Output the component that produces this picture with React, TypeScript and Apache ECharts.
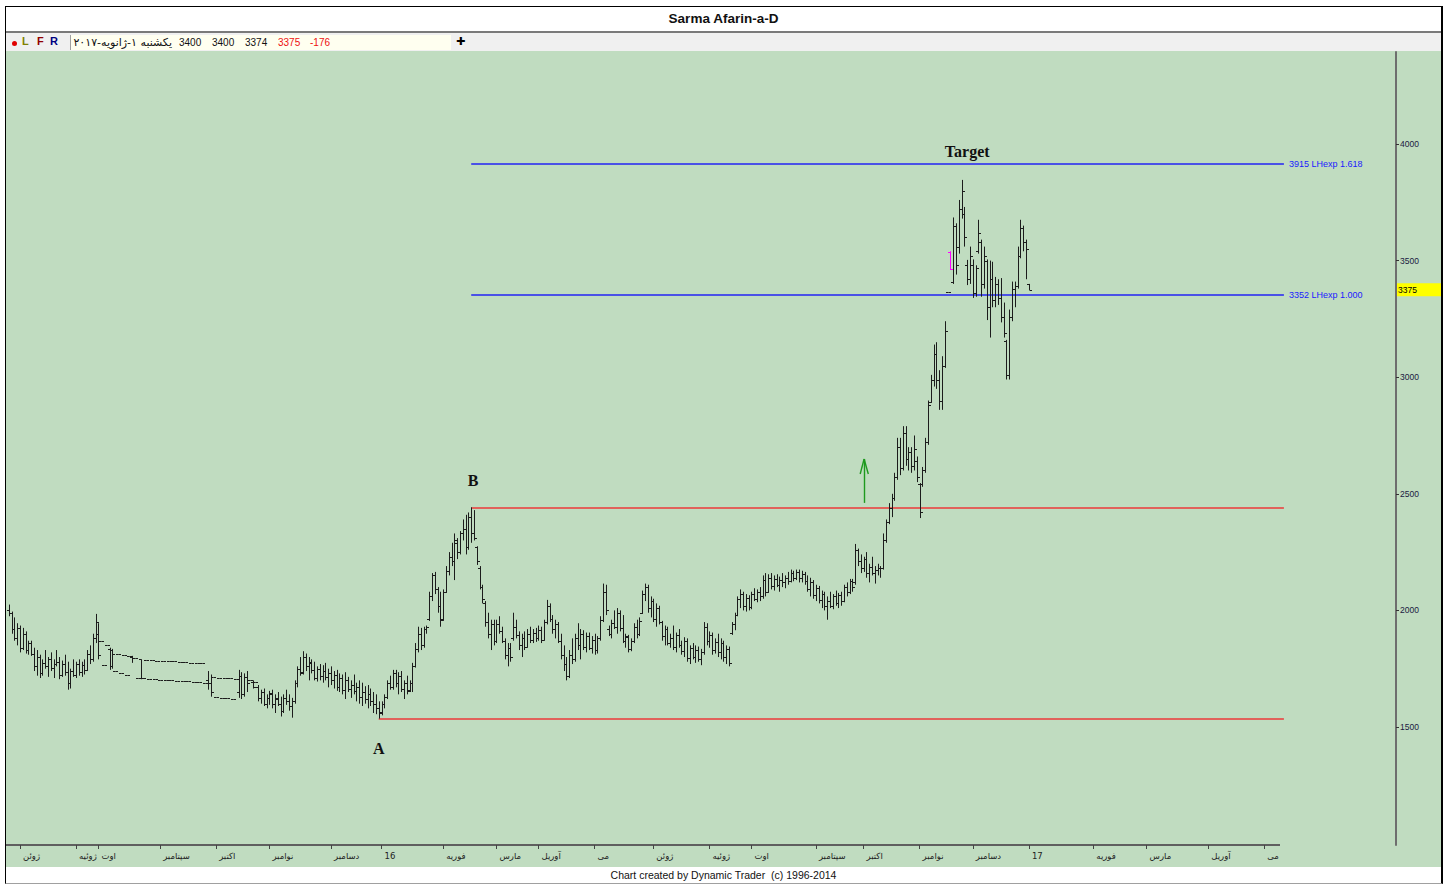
import React, { useEffect, useRef } from "react";
import * as echarts from "echarts";

// OHLC bars [open, high, low, close]; a single number is a flat (halted) bar.
const barsJunJul2015: (number | number[])[] = [
  [2000, 2025, 1975, 1990], [1990, 1995, 1900, 1920], [1920, 1970, 1870, 1880], [1880, 1945, 1850, 1925],
  [1925, 1935, 1820, 1840], [1840, 1925, 1830, 1900], [1900, 1910, 1815, 1830], [1830, 1870, 1810, 1860],
  [1860, 1870, 1805, 1815], [1815, 1840, 1740, 1760], [1760, 1830, 1720, 1800], [1800, 1810, 1710, 1730],
  [1730, 1790, 1720, 1775], [1775, 1830, 1750, 1760], [1760, 1800, 1715, 1790], [1790, 1820, 1740, 1755],
  [1755, 1790, 1710, 1770], [1770, 1830, 1760, 1780], [1780, 1800, 1705, 1725], [1725, 1785, 1715, 1770],
  [1770, 1810, 1720, 1735], [1735, 1780, 1660, 1690], [1690, 1750, 1665, 1740], [1740, 1790, 1715, 1725],
  [1725, 1780, 1710, 1770], [1770, 1790, 1720, 1735], [1735, 1780, 1715, 1765], [1765, 1790, 1725, 1745],
  [1745, 1830, 1740, 1815], [1815, 1850, 1770, 1790], [1790, 1900, 1780, 1880], [1880, 1985, 1860, 1950],
  [1900, 1945, 1790, 1810],
];
const barsAugOct2015: (number | number[])[] = [
  1870, 1766, 1850, [1835, 1840, 1745, 1760], [1830, 1835, 1750, 1815], 1740, 1815, 1730, 1810, 1722, 1805,
  [1800, 1805, 1775, 1795], 1797, 1712, [1790, 1790, 1705, 1710], 1708, 1787, 1706, 1786, 1704, 1785, 1703,
  1784, 1702, 1783, 1700, 1781, 1699, 1780, 1697, 1778, 1696, 1776, 1694, 1775, 1692, 1773, 1690,
  [1700, 1740, 1660, 1690], [1690, 1725, 1630, 1650], 1713, 1628, 1712, 1626, 1710, 1624, 1708, 1622, 1706,
  [1650, 1745, 1625, 1720], [1720, 1735, 1620, 1640], [1640, 1730, 1630, 1715], [1715, 1740, 1650, 1690],
  1700, [1695, 1700, 1665, 1670], 1692, [1670, 1680, 1610, 1625], [1625, 1660, 1600, 1650],
  [1650, 1665, 1590, 1600], [1600, 1640, 1580, 1625], [1625, 1655, 1595, 1640],
];
const barsNovDec2015: (number | number[])[] = [
  [1645, 1660, 1580, 1600], [1600, 1640, 1560, 1625], [1620, 1650, 1590, 1600], [1600, 1630, 1545, 1570],
  [1570, 1640, 1560, 1625], [1625, 1660, 1595, 1610], [1610, 1640, 1570, 1590], [1590, 1625, 1540, 1610],
  [1610, 1700, 1600, 1690], [1690, 1760, 1670, 1750], [1750, 1800, 1720, 1730], [1735, 1825, 1725, 1800],
  [1800, 1815, 1740, 1760], [1760, 1800, 1700, 1780], [1775, 1790, 1730, 1745], [1745, 1780, 1700, 1710],
  [1710, 1760, 1695, 1750], [1750, 1770, 1700, 1720], [1720, 1765, 1690, 1740], [1740, 1775, 1700, 1715],
  [1715, 1750, 1670, 1730], [1730, 1760, 1680, 1700], [1700, 1740, 1665, 1725], [1725, 1745, 1655, 1670],
  [1670, 1730, 1650, 1710], [1710, 1725, 1640, 1660], [1660, 1735, 1620, 1700], [1700, 1715, 1650, 1665],
  [1665, 1700, 1625, 1680], [1680, 1725, 1640, 1655], [1655, 1690, 1610, 1670], [1670, 1700, 1600, 1630],
  [1630, 1690, 1590, 1650], [1650, 1675, 1600, 1620], [1620, 1680, 1580, 1640], [1640, 1665, 1590, 1610],
  [1610, 1650, 1560, 1600], [1600, 1640, 1555, 1580], [1580, 1610, 1536, 1560],
];
const barsJanFeb2016: (number | number[])[] = [
  [1565, 1610, 1550, 1600], [1600, 1640, 1580, 1630], [1630, 1700, 1620, 1690], [1690, 1720, 1660, 1670],
  [1670, 1745, 1660, 1730], [1730, 1745, 1670, 1690], [1690, 1735, 1640, 1720], [1720, 1740, 1650, 1665],
  [1665, 1700, 1620, 1690], [1690, 1720, 1640, 1655], [1660, 1700, 1650, 1690], [1690, 1775, 1650, 1760],
  [1760, 1860, 1755, 1835], [1835, 1930, 1820, 1900], [1900, 1925, 1830, 1850], [1850, 1930, 1840, 1920],
  [1920, 1935, 1900, 1930], [1965, 2080, 1955, 2060], [2060, 2160, 2040, 2150], [2150, 2165, 2070, 2090],
  [2090, 2100, 1990, 2020], [2020, 2080, 1930, 1960], [1965, 2090, 1955, 2080], [2080, 2190, 2075, 2170],
  [2170, 2250, 2150, 2230], [2230, 2290, 2190, 2210], [2210, 2330, 2130, 2300], [2290, 2310, 2220, 2250],
  [2250, 2340, 2240, 2330], [2330, 2390, 2300, 2350], [2350, 2410, 2240, 2270], [2270, 2420, 2260, 2400],
  [2400, 2442, 2290, 2330], [2330, 2430, 2300, 2310], [2270, 2275, 2195, 2210], [2180, 2190, 2090, 2100],
  [2100, 2110, 2030, 2050], [2030, 2040, 1930, 1950], [1950, 1990, 1880, 1900], [1900, 1960, 1830, 1940],
  [1940, 1960, 1850, 1870],
];
const barsMarMay2016: (number | number[])[] = [
  [1870, 1960, 1860, 1940], [1940, 1975, 1900, 1910], [1910, 1930, 1860, 1870], [1870, 1880, 1790, 1810],
  [1810, 1860, 1760, 1840], [1840, 1860, 1780, 1800], [1880, 1990, 1870, 1930], [1930, 1960, 1880, 1895],
  [1895, 1910, 1830, 1850], [1850, 1900, 1800, 1880], [1880, 1910, 1830, 1845], [1845, 1920, 1840, 1900],
  [1900, 1930, 1860, 1875], [1875, 1920, 1860, 1905], [1905, 1925, 1865, 1880], [1880, 1935, 1870, 1915],
  [1915, 1930, 1860, 1875], [1875, 1960, 1870, 1950], [1950, 2045, 1940, 2020], [2020, 2030, 1950, 1965],
  [1965, 1980, 1900, 1920], [1920, 1960, 1880, 1940], [1940, 1950, 1860, 1870], [1870, 1900, 1790, 1810],
  [1810, 1850, 1740, 1770], [1770, 1800, 1700, 1720], [1720, 1830, 1710, 1810], [1810, 1880, 1770, 1790],
  [1790, 1900, 1780, 1880], [1880, 1945, 1830, 1850], [1850, 1920, 1790, 1900], [1900, 1915, 1830, 1845],
  [1845, 1905, 1820, 1890], [1890, 1905, 1830, 1840], [1840, 1890, 1815, 1875], [1875, 1900, 1810, 1830],
  [1830, 1890, 1815, 1880], [1880, 1975, 1870, 1960], [1960, 2115, 1950, 2080], [2080, 2110, 1980, 2000],
  [1920, 1935, 1890, 1900], [1900, 1960, 1880, 1945], [1945, 2000, 1920, 1930], [1930, 2010, 1900, 1990],
  [1990, 2000, 1910, 1925], [1925, 1980, 1860, 1870], [1870, 1900, 1840, 1890], [1885, 1895, 1820, 1835],
  [1835, 1880, 1825, 1870], [1870, 1945, 1860, 1930], [1930, 1960, 1880, 1900], [1900, 1970, 1890, 1955],
  [1990, 2085, 1985, 2070], [2070, 2115, 2040, 2100], [2100, 2110, 1990, 2010], [2010, 2060, 1970, 2040],
];
const barsJunAug2016: (number | number[])[] = [
  [2040, 2050, 1950, 1965], [1965, 2030, 1930, 2010], [2010, 2020, 1940, 1950], [1950, 1955, 1870, 1890],
  [1890, 1935, 1850, 1920], [1920, 1930, 1850, 1860], [1860, 1900, 1840, 1880], [1880, 1935, 1830, 1845],
  [1845, 1905, 1820, 1895], [1895, 1920, 1840, 1850], [1850, 1870, 1810, 1825], [1825, 1885, 1800, 1870],
  [1870, 1880, 1780, 1795], [1795, 1850, 1770, 1840], [1840, 1860, 1790, 1800], [1800, 1850, 1775, 1830],
  [1830, 1845, 1780, 1790], [1790, 1835, 1765, 1820], [1820, 1950, 1810, 1930], [1930, 1945, 1850, 1870],
  [1870, 1910, 1840, 1895], [1895, 1905, 1810, 1830], [1830, 1880, 1815, 1865], [1865, 1900, 1800, 1820],
  [1820, 1880, 1790, 1860], [1860, 1870, 1780, 1800], [1800, 1850, 1770, 1835], [1835, 1845, 1760, 1775],
  [1905, 1950, 1895, 1940], [1940, 1990, 1915, 1980], [1980, 2060, 1975, 2050], [2050, 2090, 2010, 2070],
  [2070, 2080, 2000, 2020], [2020, 2070, 1995, 2055], [2055, 2065, 2000, 2015], [2015, 2080, 2005, 2070],
  [2070, 2095, 2040, 2050], [2050, 2090, 2035, 2080], [2080, 2100, 2040, 2060], [2060, 2150, 2050, 2130],
];
const barsSepOct2016: (number | number[])[] = [
  [2130, 2160, 2060, 2080], [2080, 2155, 2075, 2140], [2140, 2160, 2090, 2105], [2105, 2150, 2085, 2135],
  [2135, 2155, 2100, 2110], [2110, 2145, 2080, 2130], [2130, 2160, 2100, 2120], [2120, 2150, 2095, 2140],
  [2140, 2165, 2110, 2125], [2125, 2175, 2120, 2160], [2160, 2170, 2125, 2140], [2140, 2175, 2130, 2165],
  [2165, 2175, 2120, 2140], [2140, 2170, 2120, 2155], [2155, 2165, 2110, 2125], [2125, 2150, 2080, 2090],
  [2090, 2140, 2060, 2120], [2120, 2130, 2050, 2065], [2065, 2110, 2040, 2095], [2095, 2105, 2030, 2045],
  [2045, 2085, 2010, 2070], [2070, 2080, 2000, 2020], [2020, 2060, 1960, 2040], [2040, 2080, 2010, 2020],
  [2020, 2070, 2005, 2060], [2060, 2085, 2020, 2030], [2030, 2075, 2010, 2065], [2065, 2080, 2020, 2040],
  [2040, 2110, 2035, 2100], [2100, 2120, 2060, 2080], [2080, 2135, 2070, 2125], [2125, 2135, 2080, 2100],
  [2120, 2285, 2110, 2260], [2260, 2265, 2190, 2210], [2210, 2240, 2160, 2180], [2180, 2230, 2165, 2220],
  [2220, 2250, 2140, 2160], [2160, 2200, 2120, 2185], [2185, 2230, 2150, 2160], [2160, 2190, 2115, 2175],
  [2175, 2200, 2150, 2180], [2180, 2190, 2140, 2180],
];
const barsNovDec2016: (number | number[])[] = [
  [2180, 2330, 2175, 2300], [2300, 2390, 2290, 2380], [2380, 2460, 2370, 2440], [2440, 2500, 2400, 2480],
  [2480, 2590, 2470, 2570], [2570, 2740, 2560, 2700], [2700, 2740, 2580, 2610], [2610, 2790, 2600, 2760],
  [2760, 2790, 2620, 2650], [2650, 2700, 2600, 2680], [2680, 2700, 2590, 2620], [2620, 2750, 2600, 2690],
  [2640, 2660, 2550, 2570], [2540, 2546, 2396, 2420], [2540, 2615, 2530, 2600], [2600, 2740, 2590, 2720],
  [2720, 2900, 2710, 2880], [2895, 3010, 2890, 2990], [2990, 3140, 2960, 3100], [3100, 3150, 2950, 2990],
  [2990, 3030, 2860, 2900], [2900, 3090, 2860, 3050], [3050, 3240, 3040, 3200], 3367,
  [3535, 3540, 3460, 3465], [3410, 3685, 3400, 3650], [3650, 3660, 3440, 3480], [3560, 3760, 3530, 3720],
  [3720, 3846, 3680, 3800], [3700, 3730, 3560, 3600], [3480, 3503, 3395, 3420], [3420, 3560, 3400, 3520],
  [3480, 3505, 3340, 3360], [3360, 3480, 3345, 3470], [3540, 3675, 3530, 3620], [3580, 3590, 3345, 3400],
  [3400, 3560, 3380, 3520], [3500, 3505, 3245, 3300], [3300, 3500, 3170, 3420], [3420, 3495, 3300, 3330],
  [3330, 3430, 3300, 3400], [3400, 3420, 3310, 3340], [3340, 3425, 3235, 3260], [3260, 3320, 3170, 3190],
  [3155, 3160, 2990, 3010], [3010, 3290, 2990, 3260], [3260, 3410, 3240, 3380], [3380, 3410, 3300, 3390],
  [3390, 3560, 3380, 3520], [3520, 3675, 3510, 3640], [3640, 3650, 3540, 3580], [3580, 3590, 3420, 3551],
  [3400, 3400, 3374, 3375],
];

const highlightBars = [337];

const monthTickBars = [5, 25, 33, 55, 75, 94, 116, 134, 156, 175, 190, 210, 231, 251, 266, 289, 306, 326, 345, 365, 388, 407, 429, 449];
const monthTickLabels = [
  "ژوئن", "ژوئیه", "اوت", "سپتامبر", "اکتبر", "نوامبر", "دسامبر", "16", "فوریه", "مارس", "آوریل", "می",
  "ژوئن", "ژوئیه", "اوت", "سپتامبر", "اکتبر", "نوامبر", "دسامبر", "17", "فوریه", "مارس", "آوریل", "می",
];
const priceTicks = [1500, 2000, 2500, 3000, 3500, 4000];

const levelPrices = [3915, 3352, 2440, 1536];
const levelLabels = ["3915 LHexp 1.618", "3352 LHexp 1.000", "", ""];
const levelStartBars = [166, 166, 166, 133];
const levelEndBar = 456;
const levelColors = ["#2323f5", "#2323f5", "#ec3a3a", "#ec3a3a"];

const pointLabels = ["A", "B", "Target"];
const pointBars = [133, 166.7, 343];
const pointPrices = [1406, 2555, 3966];

const arrowBar = 306.2;
const arrowFrom = 2461;
const arrowTo = 2649;
const arrowWingBars = [304.8, 307.7];
const arrowWingPrice = 2585;

const headerValues = ["3400", "3400", "3374", "3375", "-176"];
const headerDate = "یکشنبه ۱-ژانویه-۲۰۱۷";

export default function App() {
  const ref = useRef<HTMLDivElement>(null);

  useEffect(() => {
    if (!ref.current) return;
    const chart = echarts.init(ref.current, null, { renderer: "svg" });
    const all = [
      ...barsJunJul2015, ...barsAugOct2015, ...barsNovDec2015, ...barsJanFeb2016,
      ...barsMarMay2016, ...barsJunAug2016, ...barsSepOct2016, ...barsNovDec2016,
    ];
    const data = all.map((b, k) => {
      const v = Array.isArray(b) ? b : [b, b, b, b];
      return [k + 1, v[0], v[1], v[2], v[3]];
    });
    const levelData = levelPrices.map((p, k) => [levelStartBars[k], levelEndBar, p, k]);

    const renderBar = (params: any, api: any) => {
      const i = api.value(0);
      const pO = api.coord([i, api.value(1)]);
      const pH = api.coord([i, api.value(2)]);
      const pL = api.coord([i, api.value(3)]);
      const pC = api.coord([i, api.value(4)]);
      const x = Math.round(pH[0]) + 0.5;
      const color = highlightBars.includes(i) ? "#ff00ff" : "#1c1c1c";
      const st = { stroke: color, lineWidth: 1 };
      const yO = Math.round(pO[1]) + 0.5;
      const yC = Math.round(pC[1]) + 0.5;
      return {
        type: "group",
        children: [
          { type: "line", shape: { x1: x, y1: pH[1], x2: x, y2: pL[1] }, style: st },
          { type: "line", shape: { x1: x - 2.5, y1: yO, x2: x, y2: yO }, style: st },
          { type: "line", shape: { x1: x, y1: yC, x2: x + 2.5, y2: yC }, style: st },
        ],
      };
    };

    const renderLevel = (params: any, api: any) => {
      const k = api.value(3);
      const a = api.coord([api.value(0), api.value(2)]);
      const b = api.coord([api.value(1), api.value(2)]);
      const y = Math.round(a[1]);
      const children: any[] = [
        { type: "line", shape: { x1: a[0], y1: y, x2: b[0], y2: y }, style: { stroke: levelColors[k], lineWidth: 1.5 } },
      ];
      if (levelLabels[k]) {
        children.push({
          type: "text", x: b[0] + 5, y,
          style: { text: levelLabels[k], fill: "#1a1aff", fontSize: 9, fontFamily: "Liberation Sans", verticalAlign: "middle", align: "left" },
        });
      }
      return { type: "group", children };
    };

    const arrowStyle = { color: "#1f9a1f", width: 1.4, type: "solid" };
    const arrowLines = [
      [{ coord: [arrowBar, arrowFrom], lineStyle: arrowStyle, label: { show: false } }, { coord: [arrowBar, arrowTo], lineStyle: arrowStyle }],
      [{ coord: [arrowWingBars[0], arrowWingPrice], lineStyle: arrowStyle, label: { show: false } }, { coord: [arrowBar, arrowTo], lineStyle: arrowStyle }],
      [{ coord: [arrowWingBars[1], arrowWingPrice], lineStyle: arrowStyle, label: { show: false } }, { coord: [arrowBar, arrowTo], lineStyle: arrowStyle }],
    ];

    chart.setOption({
      animation: false,
      backgroundColor: "transparent",
      grid: { left: 0, top: 1, right: 45, bottom: 22, containLabel: false },
      xAxis: {
        type: "value",
        min: 0,
        max: 496,
        axisLine: { show: false, onZero: false },
        axisTick: { show: true, customValues: monthTickBars, length: 4, lineStyle: { color: "#444", width: 1 } },
        axisLabel: {
          show: true,
          customValues: monthTickBars,
          formatter: (v: number) => {
            const k = monthTickBars.indexOf(v);
            return k >= 0 ? monthTickLabels[k] : "";
          },
          align: "left",
          margin: 6,
          padding: [0, 0, 0, 3],
          fontSize: 8.5,
          color: "#222",
          fontFamily: "DejaVu Sans",
        },
        splitLine: { show: false },
      },
      yAxis: {
        type: "value",
        position: "right",
        min: 994,
        max: 4394.5,
        axisLine: { show: true, onZero: false, lineStyle: { color: "#6e6e6e", width: 2 } },
        axisTick: { show: true, customValues: priceTicks, length: 3, lineStyle: { color: "#333" } },
        axisLabel: {
          show: true, customValues: priceTicks, margin: 4, fontSize: 8.5,
          color: "#1a1a40", fontFamily: "Liberation Sans",
          formatter: (v: number) => String(v),
        },
        splitLine: { show: false },
      },
      series: [
        {
          type: "custom",
          name: "levels",
          renderItem: renderLevel,
          data: levelData,
          encode: { x: [0, 1], y: 2 },
          silent: true,
          z: 1,
        },
        {
          type: "custom",
          name: "bars",
          renderItem: renderBar,
          data,
          encode: { x: 0, y: [1, 2, 3, 4] },
          z: 2,
          markLine: {
            silent: true,
            symbol: ["none", "none"],
            animation: false,
            data: arrowLines,
          },
          markPoint: {
            silent: true,
            symbol: "rect",
            symbolSize: [1, 1],
            itemStyle: { color: "rgba(0,0,0,0)" },
            data: pointLabels.map((t, k) => ({
              coord: [pointBars[k], pointPrices[k]],
              value: t,
              label: {
                show: true, position: "inside", formatter: t, color: "#111",
                fontWeight: "bold", fontFamily: "Liberation Serif", fontSize: 16,
              },
            })),
          },
        },
      ],
    });

    const lastClose = data[data.length - 1][4];
    const yLast = chart.convertToPixel({ yAxisIndex: 0 }, lastClose) as number;
    chart.setOption({
      graphic: [
        { type: "line", silent: true, shape: { x1: 0, y1: 794, x2: 1274, y2: 794 }, style: { stroke: "#5f5f5f", lineWidth: 2 } },
        { type: "rect", silent: true, shape: { x: 1389, y: yLast - 6.5, width: 46, height: 13 }, style: { fill: "#ffff00" } },
        {
          type: "text", silent: true, x: 1392, y: yLast,
          style: { text: String(lastClose), fill: "#000", fontSize: 8.5, fontFamily: "Liberation Sans", verticalAlign: "middle" },
        },
      ],
    });

    return () => chart.dispose();
  }, []);

  const hv = { position: "absolute" as const, top: 36, fontSize: 10, fontFamily: "Liberation Sans", lineHeight: "13px" };

  return (
    <div style={{ position: "fixed", left: 0, top: 0, width: 1448, height: 884, background: "#fff", overflow: "hidden" }}>
      <div style={{ position: "absolute", left: 5, top: 6, width: 1438, height: 878, boxSizing: "border-box", borderLeft: "1px solid #000", borderTop: "1px solid #000", borderRight: "2px solid #000", borderBottom: "1px solid #a0a0a0" }} />
      <div style={{ position: "absolute", left: 6, top: 7, width: 1435, height: 24, lineHeight: "24px", textAlign: "center", fontFamily: "Liberation Sans", fontWeight: "bold", fontSize: 13.5, color: "#111" }}>Sarma Afarin-a-D</div>
      <div style={{ position: "absolute", left: 6, top: 31, width: 1435, height: 2, background: "#7a7a7a" }} />
      <div style={{ position: "absolute", left: 6, top: 33, width: 1435, height: 18, background: "#f0f0f0" }} />
      <div style={{ position: "absolute", left: 12, top: 41, width: 5, height: 5, borderRadius: 3, background: "#e00000" }} />
      <div style={{ position: "absolute", left: 22, top: 35, fontSize: 11, fontWeight: "bold", fontFamily: "Liberation Sans", color: "#808000" }}>L</div>
      <div style={{ position: "absolute", left: 37, top: 35, fontSize: 11, fontWeight: "bold", fontFamily: "Liberation Sans", color: "#900000" }}>F</div>
      <div style={{ position: "absolute", left: 50, top: 35, fontSize: 11, fontWeight: "bold", fontFamily: "Liberation Sans", color: "#000080" }}>R</div>
      <div style={{ position: "absolute", left: 70, top: 35, width: 380, height: 15, background: "#fffff0", borderLeft: "1px solid #a0a0a0" }} />
      <div dir="rtl" style={{ position: "absolute", left: 60, top: 36, width: 112, textAlign: "right", fontSize: 11, fontFamily: "DejaVu Sans", lineHeight: "13px", color: "#111", whiteSpace: "nowrap" }}>{headerDate}</div>
      <div style={{ ...hv, left: 179, color: "#111" }}>{headerValues[0]}</div>
      <div style={{ ...hv, left: 212, color: "#111" }}>{headerValues[1]}</div>
      <div style={{ ...hv, left: 245, color: "#111" }}>{headerValues[2]}</div>
      <div style={{ ...hv, left: 278, color: "#ee1111" }}>{headerValues[3]}</div>
      <div style={{ ...hv, left: 310, color: "#ee1111" }}>{headerValues[4]}</div>
      <div style={{ position: "absolute", left: 456, top: 35, fontSize: 11, fontWeight: "bold", fontFamily: "DejaVu Sans", color: "#000" }}>✚</div>
      <div ref={ref} style={{ position: "absolute", left: 6, top: 51, width: 1435, height: 816, background: "#c0dcc0" }} />
      <div style={{ position: "absolute", left: 6, top: 867, width: 1435, height: 16, lineHeight: "16px", textAlign: "center", fontFamily: "Liberation Sans", fontSize: 10.5, color: "#111" }}>
        Chart created by Dynamic Trader&nbsp;&nbsp;(c) 1996-2014
      </div>
    </div>
  );
}
